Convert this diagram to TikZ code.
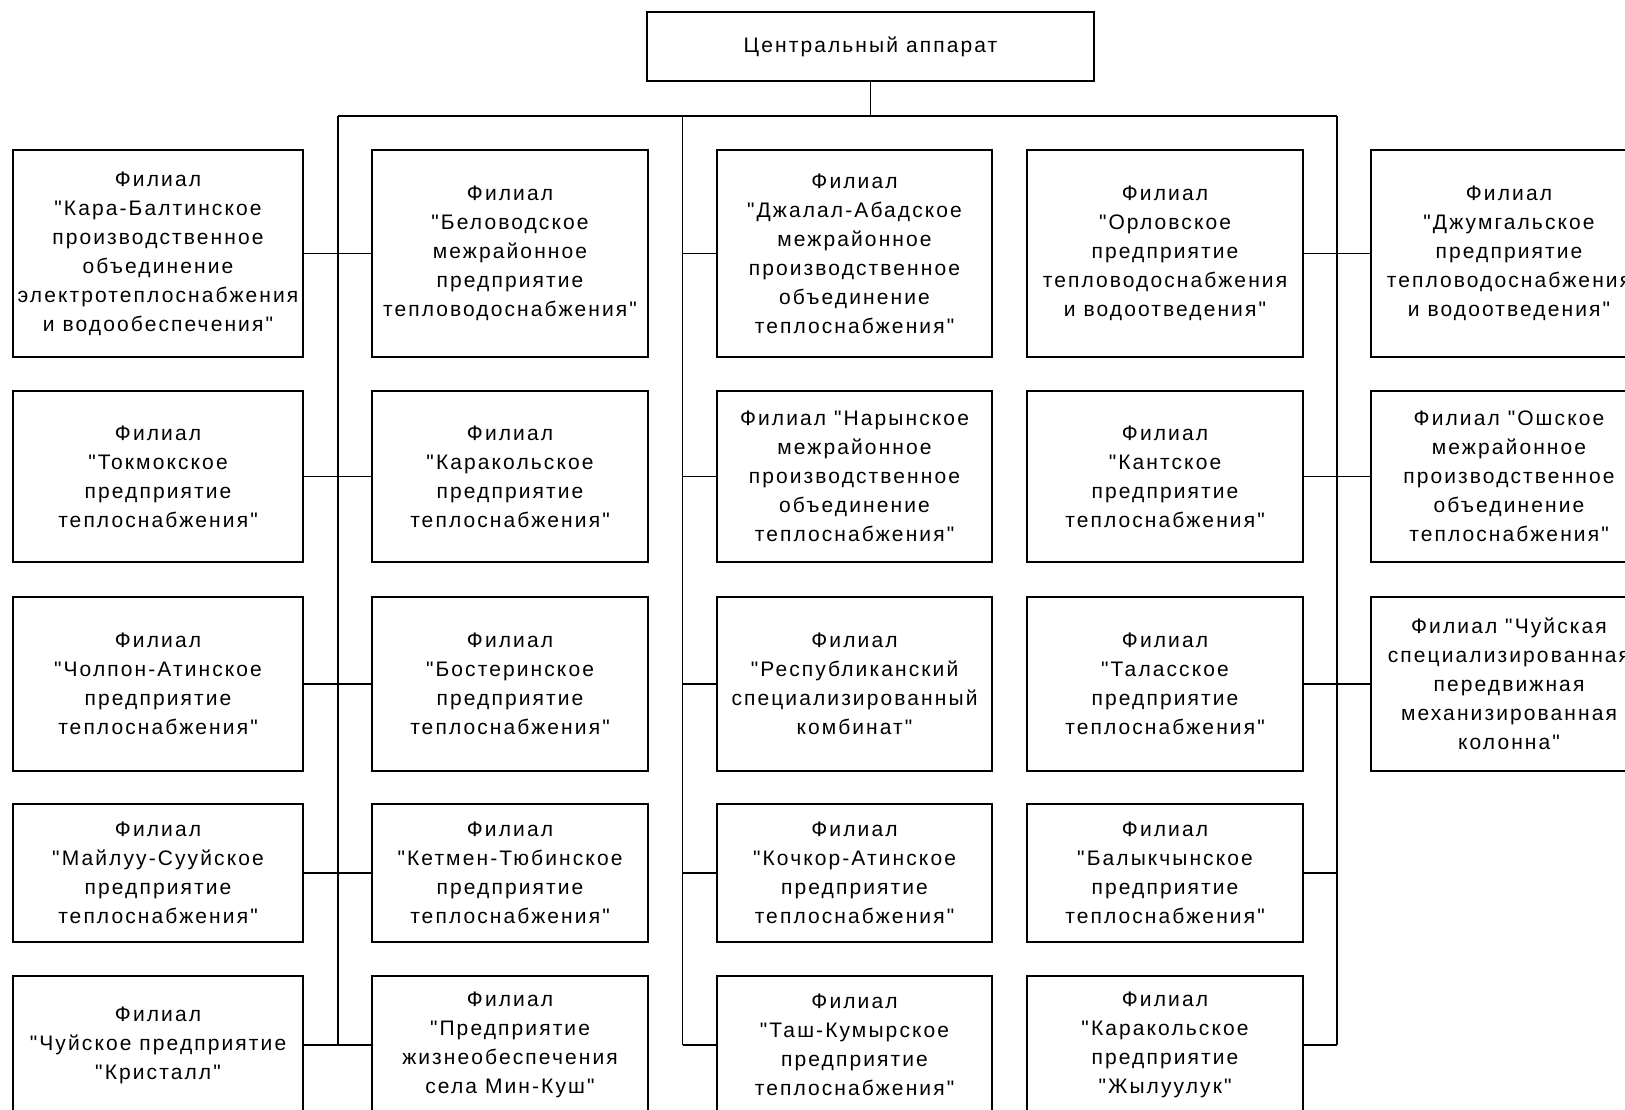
\documentclass[tikz,border=0pt]{standalone}
\usepackage{fontspec}
\newfontfamily\bfont{Liberation Sans}[LetterSpace=10]
\tikzset{
  box/.style={draw, line width=1.3pt, inner sep=0pt, align=center,
    font=\bfont\fontsize{21pt}{29pt}\selectfont},
  wA/.style={minimum width=290pt},
  wB/.style={minimum width=276pt},
  wC/.style={minimum width=275pt},
  h1/.style={minimum height=207pt},
  h2/.style={minimum height=171pt},
  h3/.style={minimum height=174pt},
  h4/.style={minimum height=138pt},
  h5/.style={minimum height=138pt},
  conn/.style={line width=1.3pt}
}
\begin{document}
\begin{tikzpicture}[x=1pt,y=-1pt]
\useasboundingbox (0,0) rectangle (1625,1110);
\clip (0,0) rectangle (1625,1110);
\fill[white] (0,0) rectangle (1625,1110);

\node[box, minimum width=447pt, minimum height=69pt] (top) at (870.5,46.5) {Центральный аппарат};

% column 1
\node[box,wA,h1] (c1r1) at (158,253.5) {Филиал\\"Кара-Балтинское\\производственное\\объединение\\электротеплоснабжения\\и водообеспечения"};
\node[box,wA,h2] (c1r2) at (158,476.5) {Филиал\\"Токмокское\\предприятие\\теплоснабжения"};
\node[box,wA,h3] (c1r3) at (158,684) {Филиал\\"Чолпон-Атинское\\предприятие\\теплоснабжения"};
\node[box,wA,h4] (c1r4) at (158,873) {Филиал\\"Майлуу-Сууйское\\предприятие\\теплоснабжения"};
\node[box,wA,h5] (c1r5) at (158,1045) {Филиал\\"Чуйское предприятие\\"Кристалл"};

% column 2
\node[box,wB,h1] (c2r1) at (510,253.5) {Филиал\\"Беловодское\\межрайонное\\предприятие\\тепловодоснабжения"};
\node[box,wB,h2] (c2r2) at (510,476.5) {Филиал\\"Каракольское\\предприятие\\теплоснабжения"};
\node[box,wB,h3] (c2r3) at (510,684) {Филиал\\"Бостеринское\\предприятие\\теплоснабжения"};
\node[box,wB,h4] (c2r4) at (510,873) {Филиал\\"Кетмен-Тюбинское\\предприятие\\теплоснабжения"};
\node[box,wB,h5] (c2r5) at (510,1045) {Филиал\\"Предприятие\\жизнеобеспечения\\села Мин-Куш"};

% column 3
\node[box,wC,h1] (c3r1) at (854.5,253.5) {Филиал\\"Джалал-Абадское\\межрайонное\\производственное\\объединение\\теплоснабжения"};
\node[box,wC,h2] (c3r2) at (854.5,476.5) {Филиал "Нарынское\\межрайонное\\производственное\\объединение\\теплоснабжения"};
\node[box,wC,h3] (c3r3) at (854.5,684) {Филиал\\"Республиканский\\специализированный\\комбинат"};
\node[box,wC,h4] (c3r4) at (854.5,873) {Филиал\\"Кочкор-Атинское\\предприятие\\теплоснабжения"};
\node[box,wC,h5] (c3r5) at (854.5,1045) {Филиал\\"Таш-Кумырское\\предприятие\\теплоснабжения"};

% column 4
\node[box,wB,h1] (c4r1) at (1165,253.5) {Филиал\\"Орловское\\предприятие\\тепловодоснабжения\\и водоотведения"};
\node[box,wB,h2] (c4r2) at (1165,476.5) {Филиал\\"Кантское\\предприятие\\теплоснабжения"};
\node[box,wB,h3] (c4r3) at (1165,684) {Филиал\\"Таласское\\предприятие\\теплоснабжения"};
\node[box,wB,h4] (c4r4) at (1165,873) {Филиал\\"Балыкчынское\\предприятие\\теплоснабжения"};
\node[box,wB,h5] (c4r5) at (1165,1045) {Филиал\\"Каракольское\\предприятие\\"Жылуулук"};

% column 5
\node[box,wB,h1] (c5r1) at (1509,253.5) {Филиал\\"Джумгальское\\предприятие\\тепловодоснабжения\\и водоотведения"};
\node[box,wB,h2] (c5r2) at (1509,476.5) {Филиал "Ошское\\межрайонное\\производственное\\объединение\\теплоснабжения"};
\node[box,wB,h3] (c5r3) at (1509,684) {Филиал "Чуйская\\специализированная\\передвижная\\механизированная\\колонна"};

% bus coordinates
\coordinate (hub) at (870.5,116);
\coordinate (aT) at (338,116);
\coordinate (bT) at (682.5,116);
\coordinate (cT) at (1337,116);
\coordinate (aB) at (338,1045);
\coordinate (bB) at (682.5,1045);
\coordinate (cB) at (1337,1045);

\draw[conn] (top.south) -- (hub);
\draw[conn] (aT) -- (cT);
\draw[conn] (aT) -- (aB);
\draw[conn] (bT) -- (bB);
\draw[conn] (cT) -- (cB);

\foreach \r in {1,...,5}{
  \draw[conn] (c1r\r.east) -- (c2r\r.west);
  \draw[conn] (c3r\r.west) -- (c3r\r.west -| bT);
}
\foreach \r in {1,2,3}{
  \draw[conn] (c4r\r.east) -- (c5r\r.west);
}
\foreach \r in {4,5}{
  \draw[conn] (c4r\r.east) -- (c4r\r.east -| cT);
}
\end{tikzpicture}
\end{document}
